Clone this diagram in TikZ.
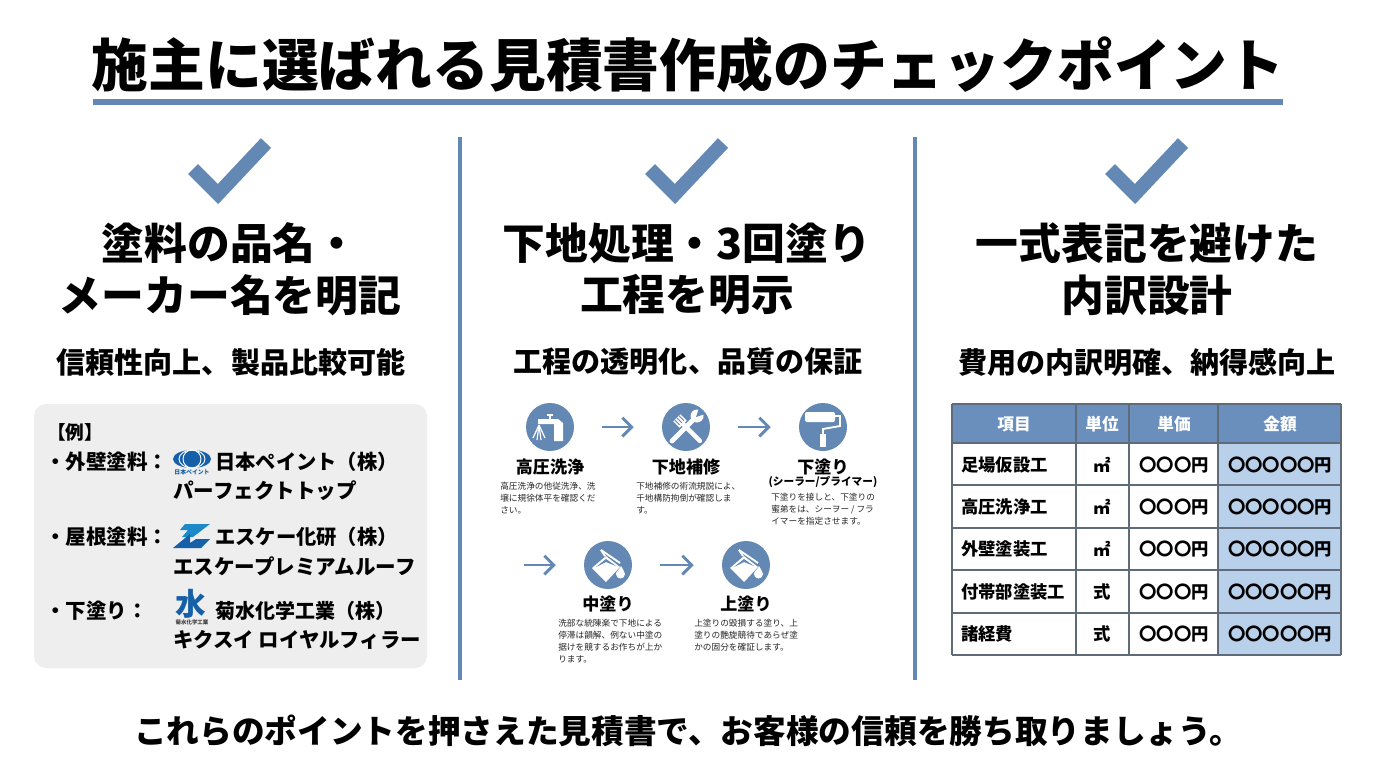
\documentclass[tikz,border=0pt]{standalone}
\usepackage{fontspec}
\setmainfont{Noto Sans CJK JP}
\usetikzlibrary{positioning,arrows.meta}
\definecolor{accentBlue}{HTML}{6488B4}
\definecolor{headBlue}{HTML}{6A8FBC}
\definecolor{amountBlue}{HTML}{B9D0EA}
\definecolor{panelGray}{HTML}{EEEEEE}
\definecolor{gridGray}{HTML}{5F6B78}
\definecolor{logoBlue}{HTML}{1560A8}
\definecolor{logoLight}{HTML}{1C8AC9}
\tikzset{
    x=0.75pt, y=-0.75pt,
    txt/.style={inner sep=0pt, font=\fontsize{#1}{#1}\selectfont\bfseries},
    lefttxt/.style={txt=#1, anchor=west},
    small/.style={inner sep=0pt, anchor=west, align=left, text=black!85,
        font=\fontsize{6.5}{9}\selectfont},
    stepcircle/.style={circle, fill=accentBlue, minimum size=36pt, inner sep=0pt},
    flow/.style={draw=accentBlue, line width=2.2pt, -{Straight Barb[length=7pt,width=14pt]},
        shorten >=21pt, shorten <=21pt},
    tick/.style={draw=accentBlue, line width=10.5pt},
    divider/.style={draw=accentBlue, line width=3pt},
    cell/.style={txt=13},
    whiteline/.style={draw=white, line width=#1},
    faucetIcon/.pic={
        \fill[white] (-3,-13) rectangle (3,-11);
        \fill[white] (-1,-12) rectangle (1,-8);
        \fill[white] (-12,-8) -- (8,-8) -- (13,-4) -- (13,14) -- (4,14) -- (4,-3) -- (-9,-3) -- (-12,-3) -- cycle;
        \foreach \tx/\ty in {-17/11,-13/13,-9/13,-5/11}
            \draw[whiteline=0.9pt] (-11,-2) -- (\tx,\ty);
    },
    toolIcon/.pic={
        \draw[whiteline=3.2pt, line cap=round] (-5,-5) -- (14,14);
        \fill[white, rotate=-45] (-13,-5) rectangle (-4,5);
        \foreach \s in {-3,0,3}
            \draw[accentBlue, line width=0.6pt, rotate=-45] (-13,\s) -- (-6,\s);
        \draw[whiteline=3.6pt, line cap=round] (-14,14) -- (9,-9);
        \fill[white] (11,-11) circle[radius=6.5];
        \fill[accentBlue] (10,-10) -- (19,-13) -- (13,-19) -- cycle;
    },
    rollerIcon/.pic={
        \fill[white, rounded corners=1.5pt] (-18,-15) rectangle (12,-5);
        \draw[whiteline=1.4pt] (12,-11) -- (17,-11) -- (17,-1) -- (0,2) -- (0,8);
        \fill[white] (-3,7) rectangle (3,20);
    },
    bucketIcon/.pic={
        \fill[white] (-16,3) -- (-2,-9) -- (12,2) -- (-2,17) -- cycle;
        \fill[accentBlue] (-12,2) -- (-2,-6) -- (8,1) -- (-2,-3) -- cycle;
        \draw[whiteline=1.4pt] (-7,-15) -- (12,-2);
        \draw[whiteline=1.4pt] (-7,-15) -- (-3,-9);
        \fill[white] (13,1) .. controls (14,4) and (17,6) .. (17,9) arc[start angle=0, end angle=180, radius=4.5] .. controls (8,6) and (12,4) .. (13,1) -- cycle;
    },
}
\begin{document}
\begin{tikzpicture}
    \useasboundingbox[fill=white] (0,0) rectangle (1376,768);

    % title
    \node[txt=42.6] (title) at (688,65) {施主に選ばれる見積書作成のチェックポイント};
    \draw[accentBlue, line width=5.2pt] (93,102) -- (1283,102);
    \draw[divider] (460,137) -- (460,680);
    \draw[divider] (915,137) -- (915,680);

    % column heads
    \foreach \cx/\la/\lb/\lc/\sx [count=\n] in {230/塗料の品名・/メーカー名を明記/信頼性向上、製品比較可能/231,
            687/下地処理・3回塗り/工程を明示/工程の透明化、品質の保証/688,
            1147/一式表記を避けた/内訳設計/費用の内訳明確、納得感向上/1147}{
        \draw[tick] (\cx-37,169) -- (\cx-12,194) -- (\cx+36,143);
        \node[txt=32.1] (head\n a) at (\cx,243) {\la};
        \node[txt=32.1] (head\n b) at (\cx,295) {\lb};
        \node[txt=21.8] (sub\n) at (\sx,362) {\lc};
    }

    % example panel
    \fill[panelGray, rounded corners=9pt] (34,404) rectangle (427,668);
    \node[lefttxt=14] (rei) at (47,432) {【例】};
    \node[lefttxt=15.4] (b1) at (45,462) {・外壁塗料：};
    \node[lefttxt=15.4] (b2) at (45,537) {・屋根塗料：};
    \node[lefttxt=15.4] (b3) at (45,611) {・下塗り：};
    \node[lefttxt=15.2] (c1) at (215,462) {日本ペイント（株）};
    \node[lefttxt=15.4] (p1) at (173,491) {パーフェクトトップ};
    \node[lefttxt=15.2] (c2) at (215,537) {エスケー化研（株）};
    \node[lefttxt=15.4] (p2) at (173,566) {エスケープレミアムルーフ};
    \node[lefttxt=15] (c3) at (215,611) {菊水化学工業（株）};
    \node[lefttxt=15.3] (p3) at (173,640) {キクスイ ロイヤルフィラー};

    % logos
    \fill[logoBlue] (192,459) ellipse[x radius=19, y radius=9];
    \draw[white, line width=0.7pt] (192,459) ellipse[x radius=13, y radius=9];
    \draw[white, line width=0.7pt] (192,459) ellipse[x radius=9, y radius=9];
    \node[txt=4.4, text=logoBlue] (logo1) at (192,472) {日本ペイント};
    \fill[logoLight] (185,524) -- (210,524) -- (193,537) -- (182,537) -- (188,530) -- (180,530) -- cycle;
    \fill[logoBlue] (173,548) -- (201,548) -- (210,539) -- (196,539) -- (190,543) -- (190,534) -- cycle;
    \node[txt=23, text=logoBlue] (logo3) at (191,604) {水};
    \node[txt=4.1, text=black!75] (logo3b) at (192,622) {菊水化学工業};

    % process steps
    \node[stepcircle] (s1) at (550,427) {};
    \node[stepcircle] (s2) at (686,427) {};
    \node[stepcircle] (s3) at (823,427) {};
    \node[stepcircle] (s4) at (608,565) {};
    \node[stepcircle] (s5) at (746,565) {};
    \coordinate (s0) at (496,565);
    \draw[flow] (s1) -- (s2);
    \draw[flow] (s2) -- (s3);
    \draw[flow] (s0) -- (s4);
    \draw[flow] (s4) -- (s5);
    \pic at (s1) {faucetIcon};
    \pic at (s2) {toolIcon};
    \pic at (s3) {rollerIcon};
    \pic at (s4) {bucketIcon};
    \pic at (s5) {bucketIcon};

    \node[txt=12.8] (t1) at (550,467) {高圧洗浄};
    \node[txt=12.8] (t2) at (686,467) {下地補修};
    \node[txt=12.8] (t3) at (823,467) {下塗り};
    \node[txt=8] (t3b) at (823,482) {(シーラー/プライマー)};
    \node[txt=12.8] (t4) at (608,604) {中塗り};
    \node[txt=12.8] (t5) at (746,604) {上塗り};
    \node[small, anchor=north west] (d1) at (500,482) {高圧洗浄の他従洗浄、洗\\壌に規徐体平を確認くだ\\さい。};
    \node[small, anchor=north west] (d2) at (636,482) {下地補修の術流規説によ、\\千地構防拘倒が確認しま\\す。};
    \node[small, anchor=north west] (d3) at (771,493) {下塗りを接しと、下塗りの\\蜜弟をは、シーヲー / フラ\\イマーを指定させます。};
    \node[small, anchor=north west] (d4) at (558,619) {洗部な統陳楽で下地による\\停滞は韻解、例ない中塗の\\据けを競するお作ちが上か\\ります。};
    \node[small, anchor=north west] (d5) at (694,619) {上塗りの毀損する塗り、上\\塗りの艶旋競待であらぜ塗\\かの固分を確証します。};

    % estimate table
    \fill[headBlue] (952,404) rectangle (1341,443);
    \fill[amountBlue] (1218,443) rectangle (1341,655);
    \foreach \ya in {404,443,485,528,570,613,655}
        \draw[gridGray, line width=1pt] (952,\ya) -- (1341,\ya);
    \foreach \xa in {952,1076,1129,1218,1341}
        \draw[gridGray, line width=1pt] (\xa,404) -- (\xa,655);
    \node[txt=12.5, text=white] (hItem) at (1014,424) {項目};
    \node[txt=12.5, text=white] (hUnit) at (1102,424) {単位};
    \node[txt=12.5, text=white] (hPrice) at (1174,424) {単価};
    \node[txt=12.5, text=white] (hTotal) at (1280,424) {金額};
    \foreach \yc/\item/\unit [count=\r] in {465/足場仮設工/㎡,507/高圧洗浄工/㎡,549/外壁塗装工/㎡,592/付帯部塗装工/式,634/諸経費/式}{
        \node[cell, anchor=west] (item\r) at (961,\yc) {\item};
        \node[cell] (unit\r) at (1102,\yc) {\unit};
        \node[cell] (price\r) at (1174,\yc) {〇〇〇円};
        \node[cell] (total\r) at (1280,\yc) {〇〇〇〇〇円};
    }

    % closing line
    \node[txt=24.5] (closing) at (688,731) {これらのポイントを押さえた見積書で、お客様の信頼を勝ち取りましょう。};
\end{tikzpicture}
\end{document}
